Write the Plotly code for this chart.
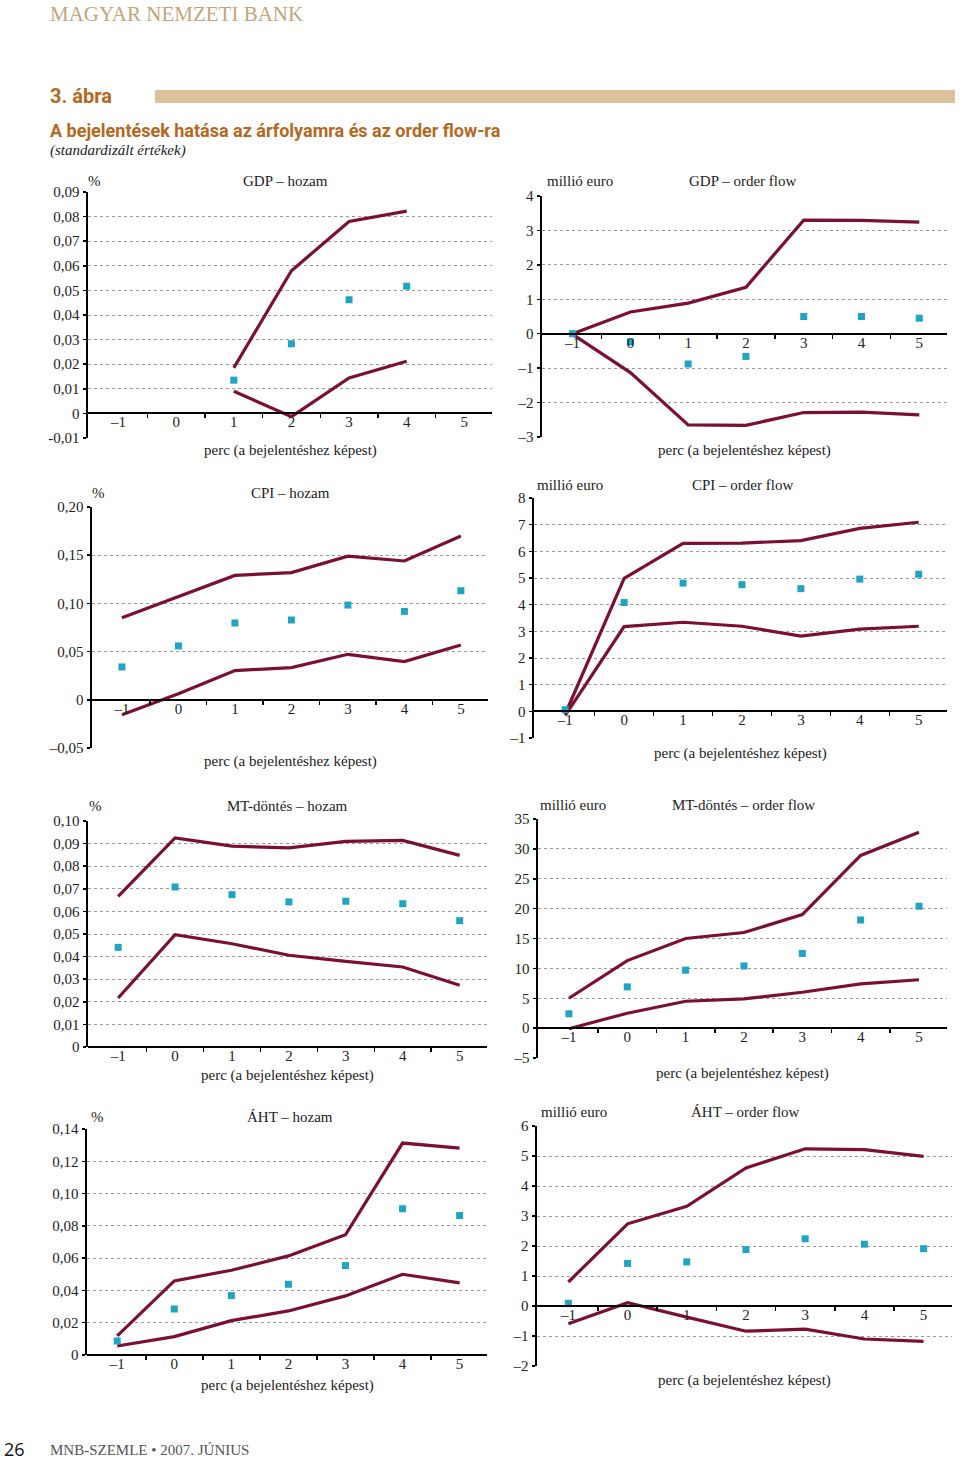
import plotly.graph_objects as go

W, H = 960, 1461

# ---------------- data ----------------
x_vals = [-1, 0, 1, 2, 3, 4, 5]
x_labels = ["–1", "0", "1", "2", "3", "4", "5"]

# GDP – hozam (only minutes 1..4)
gdp_hozam_x = [1, 2, 3, 4]
gdp_hozam_upper = [0.0185, 0.058, 0.078, 0.0822]
gdp_hozam_lower = [0.009, -0.0013, 0.0144, 0.0212]
gdp_hozam_point = [0.0135, 0.0283, 0.0462, 0.0517]

# GDP – order flow
gdp_of_upper = [0.0, 0.63, 0.89, 1.35, 3.30, 3.29, 3.24]
gdp_of_lower = [-0.02, -1.13, -2.65, -2.66, -2.29, -2.28, -2.36]
gdp_of_point = [0.0, -0.24, -0.88, -0.66, 0.50, 0.50, 0.45]

# CPI – hozam
cpi_hozam_upper = [0.0852, 0.107, 0.129, 0.132, 0.149, 0.144, 0.170]
cpi_hozam_lower = [-0.0155, 0.0062, 0.0303, 0.0334, 0.0472, 0.0397, 0.0569]
cpi_hozam_point = [0.0341, 0.0559, 0.0797, 0.0828, 0.0983, 0.0917, 0.1131]

# CPI – order flow
cpi_of_upper = [-0.1, 4.99, 6.30, 6.31, 6.40, 6.86, 7.09]
cpi_of_lower = [-0.15, 3.18, 3.34, 3.19, 2.82, 3.08, 3.19]
cpi_of_point = [0.06, 4.08, 4.81, 4.75, 4.60, 4.96, 5.14]

# MT-döntés – hozam
mt_hozam_upper = [0.0667, 0.0925, 0.0889, 0.0881, 0.0910, 0.0914, 0.0848]
mt_hozam_lower = [0.0217, 0.0497, 0.0457, 0.0406, 0.0379, 0.0354, 0.0273]
mt_hozam_point = [0.0441, 0.0708, 0.0674, 0.0642, 0.0645, 0.0634, 0.0559]

# MT-döntés – order flow
mt_of_upper = [5.0, 11.3, 15.0, 16.0, 19.0, 28.9, 32.8]
mt_of_lower = [-0.1, 2.5, 4.5, 4.9, 6.0, 7.4, 8.1]
mt_of_point = [2.4, 6.9, 9.7, 10.4, 12.5, 18.1, 20.4]

# ÁHT – hozam
aht_hozam_upper = [0.0118, 0.0459, 0.0525, 0.0614, 0.0745, 0.1313, 0.1282]
aht_hozam_lower = [0.0056, 0.0114, 0.0213, 0.0273, 0.0366, 0.0500, 0.0447]
aht_hozam_point = [0.0087, 0.0285, 0.0368, 0.0438, 0.0554, 0.0906, 0.0864]

# ÁHT – order flow
aht_of_upper = [0.80, 2.74, 3.32, 4.60, 5.24, 5.21, 4.99]
aht_of_lower = [-0.59, 0.11, -0.37, -0.84, -0.77, -1.10, -1.18]
aht_of_point = [0.09, 1.42, 1.47, 1.88, 2.24, 2.06, 1.91]

# y tick values / labels per panel
yt_gdp_hozam = [-0.01, 0, 0.01, 0.02, 0.03, 0.04, 0.05, 0.06, 0.07, 0.08, 0.09]
yl_gdp_hozam = ["-0,01", "0", "0,01", "0,02", "0,03", "0,04", "0,05", "0,06", "0,07", "0,08", "0,09"]
yt_gdp_of = [-3, -2, -1, 0, 1, 2, 3, 4]
yl_gdp_of = ["–3", "–2", "–1", "0", "1", "2", "3", "4"]
yt_cpi_hozam = [-0.05, 0, 0.05, 0.10, 0.15, 0.20]
yl_cpi_hozam = ["–0,05", "0", "0,05", "0,10", "0,15", "0,20"]
yt_cpi_of = [-1, 0, 1, 2, 3, 4, 5, 6, 7, 8]
yl_cpi_of = ["–1", "0", "1", "2", "3", "4", "5", "6", "7", "8"]
yt_mt_hozam = [0, 0.01, 0.02, 0.03, 0.04, 0.05, 0.06, 0.07, 0.08, 0.09, 0.10]
yl_mt_hozam = ["0", "0,01", "0,02", "0,03", "0,04", "0,05", "0,06", "0,07", "0,08", "0,09", "0,10"]
yt_mt_of = [-5, 0, 5, 10, 15, 20, 25, 30, 35]
yl_mt_of = ["–5", "0", "5", "10", "15", "20", "25", "30", "35"]
yt_aht_hozam = [0, 0.02, 0.04, 0.06, 0.08, 0.10, 0.12, 0.14]
yl_aht_hozam = ["0", "0,02", "0,04", "0,06", "0,08", "0,10", "0,12", "0,14"]
yt_aht_of = [-2, -1, 0, 1, 2, 3, 4, 5, 6]
yl_aht_of = ["–2", "–1", "0", "1", "2", "3", "4", "5", "6"]

# ---------------- style ----------------
LINE_C = "#7b1034"
PT_C = "#1fa4c2"
GRID_C = "#9a9a9a"
SERIF = "Liberation Serif, DejaVu Serif, serif"
TXT_C = "#222222"
HEAD_C = "#b5681e"


def px_x(p):
    return p / W


def px_y(p):
    return 1 - p / H


panels = [
    dict(name="GDP – hozam", x0=88, x1=492, ytop=192, ybot=438, yr=(-0.01, 0.09),
         xs=gdp_hozam_x, up=gdp_hozam_upper, lo=gdp_hozam_lower, pt=gdp_hozam_point,
         tv=yt_gdp_hozam, tl=yl_gdp_hozam, xt_y=450, ty=181, tcx=285, unit="%", ucx=94),
    dict(name="GDP – order flow", x0=542, x1=947, ytop=196, ybot=437, yr=(-3, 4),
         xs=x_vals, up=gdp_of_upper, lo=gdp_of_lower, pt=gdp_of_point,
         tv=yt_gdp_of, tl=yl_gdp_of, xt_y=450, ty=181, tcx=743, unit="millió euro", ucx=580),
    dict(name="CPI – hozam", x0=92, x1=488, ytop=507, ybot=748, yr=(-0.05, 0.20),
         xs=x_vals, up=cpi_hozam_upper, lo=cpi_hozam_lower, pt=cpi_hozam_point,
         tv=yt_cpi_hozam, tl=yl_cpi_hozam, xt_y=761, ty=493, tcx=290, unit="%", ucx=98),
    dict(name="CPI – order flow", x0=534, x1=947, ytop=498, ybot=738, yr=(-1, 8),
         xs=x_vals, up=cpi_of_upper, lo=cpi_of_lower, pt=cpi_of_point,
         tv=yt_cpi_of, tl=yl_cpi_of, xt_y=753, ty=485, tcx=742, unit="millió euro", ucx=570),
    dict(name="MT-döntés – hozam", x0=88, x1=487, ytop=821, ybot=1047, yr=(0, 0.10),
         xs=x_vals, up=mt_hozam_upper, lo=mt_hozam_lower, pt=mt_hozam_point,
         tv=yt_mt_hozam, tl=yl_mt_hozam, xt_y=1075, ty=806, tcx=287, unit="%", ucx=95),
    dict(name="MT-döntés – order flow", x0=538, x1=947, ytop=819, ybot=1058, yr=(-5, 35),
         xs=x_vals, up=mt_of_upper, lo=mt_of_lower, pt=mt_of_point,
         tv=yt_mt_of, tl=yl_mt_of, xt_y=1073, ty=805, tcx=743, unit="millió euro", ucx=573),
    dict(name="ÁHT – hozam", x0=87, x1=487, ytop=1129, ybot=1355, yr=(0, 0.14),
         xs=x_vals, up=aht_hozam_upper, lo=aht_hozam_lower, pt=aht_hozam_point,
         tv=yt_aht_hozam, tl=yl_aht_hozam, xt_y=1385, ty=1117, tcx=290, unit="%", ucx=97),
    dict(name="ÁHT – order flow", x0=537, x1=952, ytop=1126, ybot=1366, yr=(-2, 6),
         xs=x_vals, up=aht_of_upper, lo=aht_of_lower, pt=aht_of_point,
         tv=yt_aht_of, tl=yl_aht_of, xt_y=1380, ty=1112, tcx=745, unit="millió euro", ucx=574),
]

fig = go.Figure()
layout = dict(
    template="none",
    width=W, height=H, autosize=False,
    margin=dict(l=0, r=0, t=0, b=0, pad=0, autoexpand=False),
    paper_bgcolor="white", plot_bgcolor="rgba(0,0,0,0)",
    showlegend=False,
    font=dict(family=SERIF, size=15, color=TXT_C),
)
annotations = []
shapes = []

for i, p in enumerate(panels, start=1):
    xa = "x" if i == 1 else f"x{i}"
    ya = "y" if i == 1 else f"y{i}"
    xkey = "xaxis" if i == 1 else f"xaxis{i}"
    ykey = "yaxis" if i == 1 else f"yaxis{i}"
    ymin, ymax = p["yr"]
    zero_px = p["ybot"] - (0 - ymin) / (ymax - ymin) * (p["ybot"] - p["ytop"])

    fig.add_trace(go.Scatter(x=p["xs"], y=p["up"], mode="lines", xaxis=xa, yaxis=ya,
                             line=dict(color=LINE_C, width=3.2), hoverinfo="skip"))
    fig.add_trace(go.Scatter(x=p["xs"], y=p["lo"], mode="lines", xaxis=xa, yaxis=ya,
                             line=dict(color=LINE_C, width=3.2), hoverinfo="skip"))
    fig.add_trace(go.Scatter(x=p["xs"], y=p["pt"], mode="markers", xaxis=xa, yaxis=ya,
                             marker=dict(symbol="square", size=7, color=PT_C,
                                         line=dict(width=0)), hoverinfo="skip"))

    layout[xkey] = dict(
        domain=[px_x(p["x0"]), px_x(p["x1"])],
        range=[-1.53, 5.48],
        anchor="free", position=px_y(zero_px),
        automargin=False,
        showline=True, linecolor="black", linewidth=2,
        showgrid=False, zeroline=False,
        tickmode="array", tickvals=x_vals, ticktext=x_labels,
        ticks="", ticklabelstandoff=-5,
        tickfont=dict(family=SERIF, size=15, color=TXT_C),
        minor=dict(tickmode="array", tickvals=[-0.5, 0.5, 1.5, 2.5, 3.5, 4.5],
                   ticks="outside", ticklen=4, tickcolor="black", tickwidth=1.5, showgrid=False),
        fixedrange=True,
    )
    layout[ykey] = dict(
        domain=[px_y(p["ybot"]), px_y(p["ytop"])],
        range=[ymin, ymax],
        anchor=xa,
        automargin=False,
        showline=True, linecolor="black", linewidth=2.5,
        showgrid=True, gridcolor=GRID_C, griddash="dot", gridwidth=1,
        zeroline=False,
        tickmode="array", tickvals=p["tv"], ticktext=p["tl"],
        ticks="outside", ticklen=3, tickcolor="black", tickwidth=1.5,
        tickfont=dict(family=SERIF, size=15, color=TXT_C),
        fixedrange=True,
    )
    annotations.append(dict(text=p["name"], xref="paper", yref="paper",
                            x=px_x(p["tcx"]), y=px_y(p["ty"]), xanchor="center", yanchor="middle",
                            showarrow=False, font=dict(family=SERIF, size=15, color=TXT_C)))
    annotations.append(dict(text=p["unit"], xref="paper", yref="paper",
                            x=px_x(p["ucx"]), y=px_y(p["ty"]), xanchor="center", yanchor="middle",
                            showarrow=False, font=dict(family=SERIF, size=15, color=TXT_C)))
    annotations.append(dict(text="perc (a bejelentéshez képest)", xref="paper", yref="paper",
                            x=px_x((p["x0"] + p["x1"]) / 2), y=px_y(p["xt_y"]),
                            xanchor="center", yanchor="middle",
                            showarrow=False, font=dict(family=SERIF, size=15, color=TXT_C)))

annotations.append(dict(text="MAGYAR NEMZETI BANK", xref="paper", yref="paper",
                        x=px_x(48), y=px_y(14), xanchor="left", yanchor="middle", showarrow=False,
                        font=dict(family=SERIF, size=21, color="#c4a57a")))
annotations.append(dict(text="<b>3. ábra</b>", xref="paper", yref="paper",
                        x=px_x(48), y=px_y(96), xanchor="left", yanchor="middle", showarrow=False,
                        font=dict(family="Roboto, Liberation Sans, sans-serif", size=20, color=HEAD_C)))
annotations.append(dict(text="<b>A bejelentések hatása az árfolyamra és az order flow-ra</b>",
                        xref="paper", yref="paper",
                        x=px_x(48), y=px_y(130), xanchor="left", yanchor="middle", showarrow=False,
                        font=dict(family="Roboto, Liberation Sans, sans-serif", size=18, color=HEAD_C)))
annotations.append(dict(text="<i>(standardizált értékek)</i>", xref="paper", yref="paper",
                        x=px_x(48), y=px_y(151), xanchor="left", yanchor="middle", showarrow=False,
                        font=dict(family=SERIF, size=15, color=TXT_C)))
annotations.append(dict(text="26", xref="paper", yref="paper",
                        x=px_x(2), y=px_y(1449), xanchor="left", yanchor="middle", showarrow=False,
                        font=dict(family="Open Sans, Liberation Sans, sans-serif", size=18, color="#111111")))
annotations.append(dict(text="MNB-SZEMLE • 2007. JÚNIUS", xref="paper", yref="paper",
                        x=px_x(48), y=px_y(1450), xanchor="left", yanchor="middle", showarrow=False,
                        font=dict(family=SERIF, size=15, color="#555555")))

shapes.append(dict(type="rect", xref="paper", yref="paper",
                   x0=px_x(155), x1=px_x(955), y0=px_y(103), y1=px_y(90),
                   fillcolor="#dcc29c", line=dict(width=0)))

layout["annotations"] = annotations
layout["shapes"] = shapes
fig.update_layout(**layout)

fig.write_html("out.html",
               config={"displayModeBar": False, "staticPlot": True},
               post_script="document.body.style.margin='0px';"
                           "document.body.style.overflow='hidden';")
